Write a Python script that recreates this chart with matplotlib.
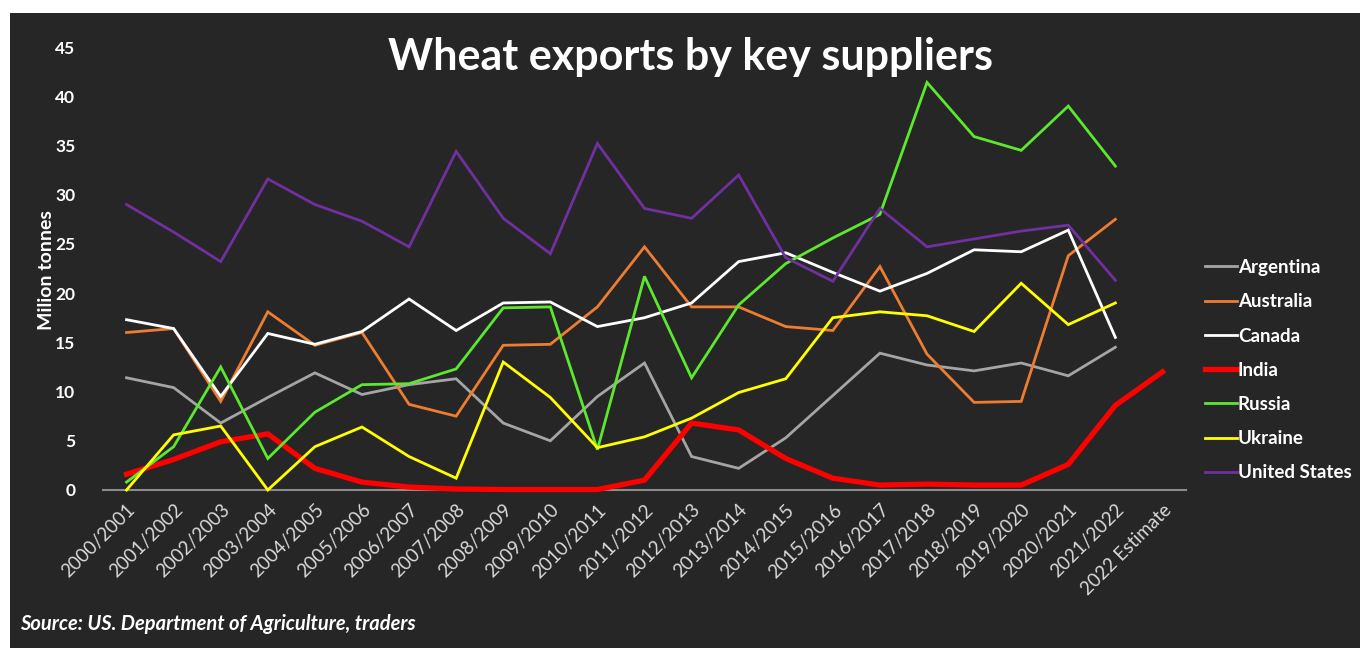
import matplotlib
matplotlib.use("Agg")
import matplotlib.pyplot as plt
from matplotlib.patches import Rectangle

# Date: exporturi de grau (milioane tone)
seasons = ['2000/2001', '2001/2002', '2002/2003', '2003/2004', '2004/2005',
           '2005/2006', '2006/2007', '2007/2008', '2008/2009', '2009/2010',
           '2010/2011', '2011/2012', '2012/2013', '2013/2014', '2014/2015',
           '2015/2016', '2016/2017', '2017/2018', '2018/2019', '2019/2020',
           '2020/2021', '2021/2022', '2022 Estimate']

argentina = [11.4, 10.4, 6.8, 9.4, 11.9, 9.7, 10.7, 11.3, 6.8, 5.0, 9.5, 12.9,
             3.4, 2.2, 5.3, 9.6, 13.9, 12.7, 12.1, 12.9, 11.6, 14.5]
australia = [16.0, 16.4, 9.0, 18.1, 14.7, 16.0, 8.7, 7.5, 14.7, 14.8, 18.6, 24.7,
             18.6, 18.6, 16.6, 16.2, 22.7, 13.8, 8.9, 9.0, 23.8, 27.5]
canada = [17.3, 16.4, 9.5, 15.9, 14.8, 16.1, 19.4, 16.2, 19.0, 19.1, 16.6, 17.5,
          19.0, 23.2, 24.1, 22.1, 20.2, 22.0, 24.4, 24.2, 26.4, 15.5]
india = [1.6, 3.1, 4.9, 5.7, 2.2, 0.8, 0.3, 0.1, 0.05, 0.05, 0.05, 1.0,
         6.8, 6.1, 3.2, 1.2, 0.5, 0.6, 0.5, 0.5, 2.6, 8.6, 12.0]
russia = [0.8, 4.4, 12.5, 3.2, 7.9, 10.7, 10.8, 12.3, 18.5, 18.6, 4.1, 21.7,
          11.4, 18.8, 23.0, 25.6, 28.0, 41.4, 35.9, 34.5, 39.0, 32.9]
ukraine = [0.0, 5.6, 6.5, 0.0, 4.4, 6.4, 3.4, 1.2, 13.0, 9.4, 4.3, 5.4,
           7.3, 9.9, 11.3, 17.5, 18.1, 17.7, 16.1, 21.0, 16.8, 19.0]
united_states = [29.0, 26.2, 23.2, 31.6, 29.0, 27.3, 24.7, 34.4, 27.6, 24.0, 35.2, 28.6,
                 27.6, 32.0, 23.6, 21.2, 28.6, 24.7, 25.5, 26.3, 26.9, 21.3]

BG = '#262626'

fig = plt.figure(figsize=(13.6, 6.48), dpi=100)
fig.patch.set_facecolor('white')
# fundal inchis, cu margine alba sus si in stanga
fig.patches.append(Rectangle((10 / 1360, 0), 1, (648 - 13) / 648,
                             transform=fig.transFigure, facecolor=BG,
                             edgecolor='none', zorder=-10))

ax = fig.add_axes([103 / 1360, (648 - 490) / 648, 1083 / 1360, 443 / 648])
ax.set_facecolor('none')

x = list(range(len(seasons)))
series = [
    ('Argentina', argentina, '#a5a5a5', 2.0),
    ('Australia', australia, '#ed7d31', 2.0),
    ('Canada', canada, '#ffffff', 2.0),
    ('India', india, '#ff0000', 3.8),
    ('Russia', russia, '#5ce82e', 2.0),
    ('Ukraine', ukraine, '#ffff00', 2.0),
    ('United States', united_states, '#7030a0', 2.0),
]
for name, vals, col, lw in series:
    ax.plot(x[:len(vals)], vals, color=col, lw=lw, label=name,
            solid_joinstyle='miter' if lw < 3 else 'round', clip_on=False)

ax.set_xlim(-0.5, len(seasons) - 0.5)
ax.set_ylim(0, 45)
ax.set_yticks(range(0, 46, 5))
ax.set_xticks(x)
ax.set_xticklabels(seasons, rotation=45, ha='right', rotation_mode='anchor',
                   fontsize=13.5, color='#d9d9d9', family='Lato')
for lab in ax.get_yticklabels():
    lab.set_fontweight('bold')
    lab.set_fontsize(12.5)
    lab.set_color('white')
    lab.set_family('Lato')
ax.tick_params(axis='y', length=0, pad=20)
ax.tick_params(axis='x', length=0, pad=8)

for s in ['top', 'right', 'left']:
    ax.spines[s].set_visible(False)
ax.spines['bottom'].set_color('#8c8c8c')
ax.spines['bottom'].set_linewidth(1.5)
ax.spines['bottom'].set_zorder(0)

fig.text(47 / 1360, (648 - 270) / 648, 'Milion tonnes', rotation=90,
         ha='center', va='center', color='white', fontsize=14,
         fontweight='bold', family='Lato')

fig.text(690 / 1360, (648 - 70) / 648, 'Wheat exports by key suppliers',
         ha='center', va='baseline', color='white', fontsize=31,
         fontweight='bold', family='Lato')

fig.text(20 / 1360, (648 - 630) / 648, 'Source: US. Department of Agriculture, traders',
         ha='left', va='baseline', color='white', fontsize=14.5,
         fontweight='bold', style='italic', family='Lato')

leg = ax.legend(loc='upper left', bbox_to_anchor=(1205 / 1360, (648 - 259) / 648),
                bbox_transform=fig.transFigure, frameon=False,
                handlelength=1.7, handletextpad=0.05, labelspacing=0.92,
                borderpad=0, borderaxespad=0,
                prop={'family': 'Lato', 'weight': 'bold', 'size': 13.5})
for t in leg.get_texts():
    t.set_color('white')

fig.savefig('out.png', dpi=100, facecolor=fig.get_facecolor())
